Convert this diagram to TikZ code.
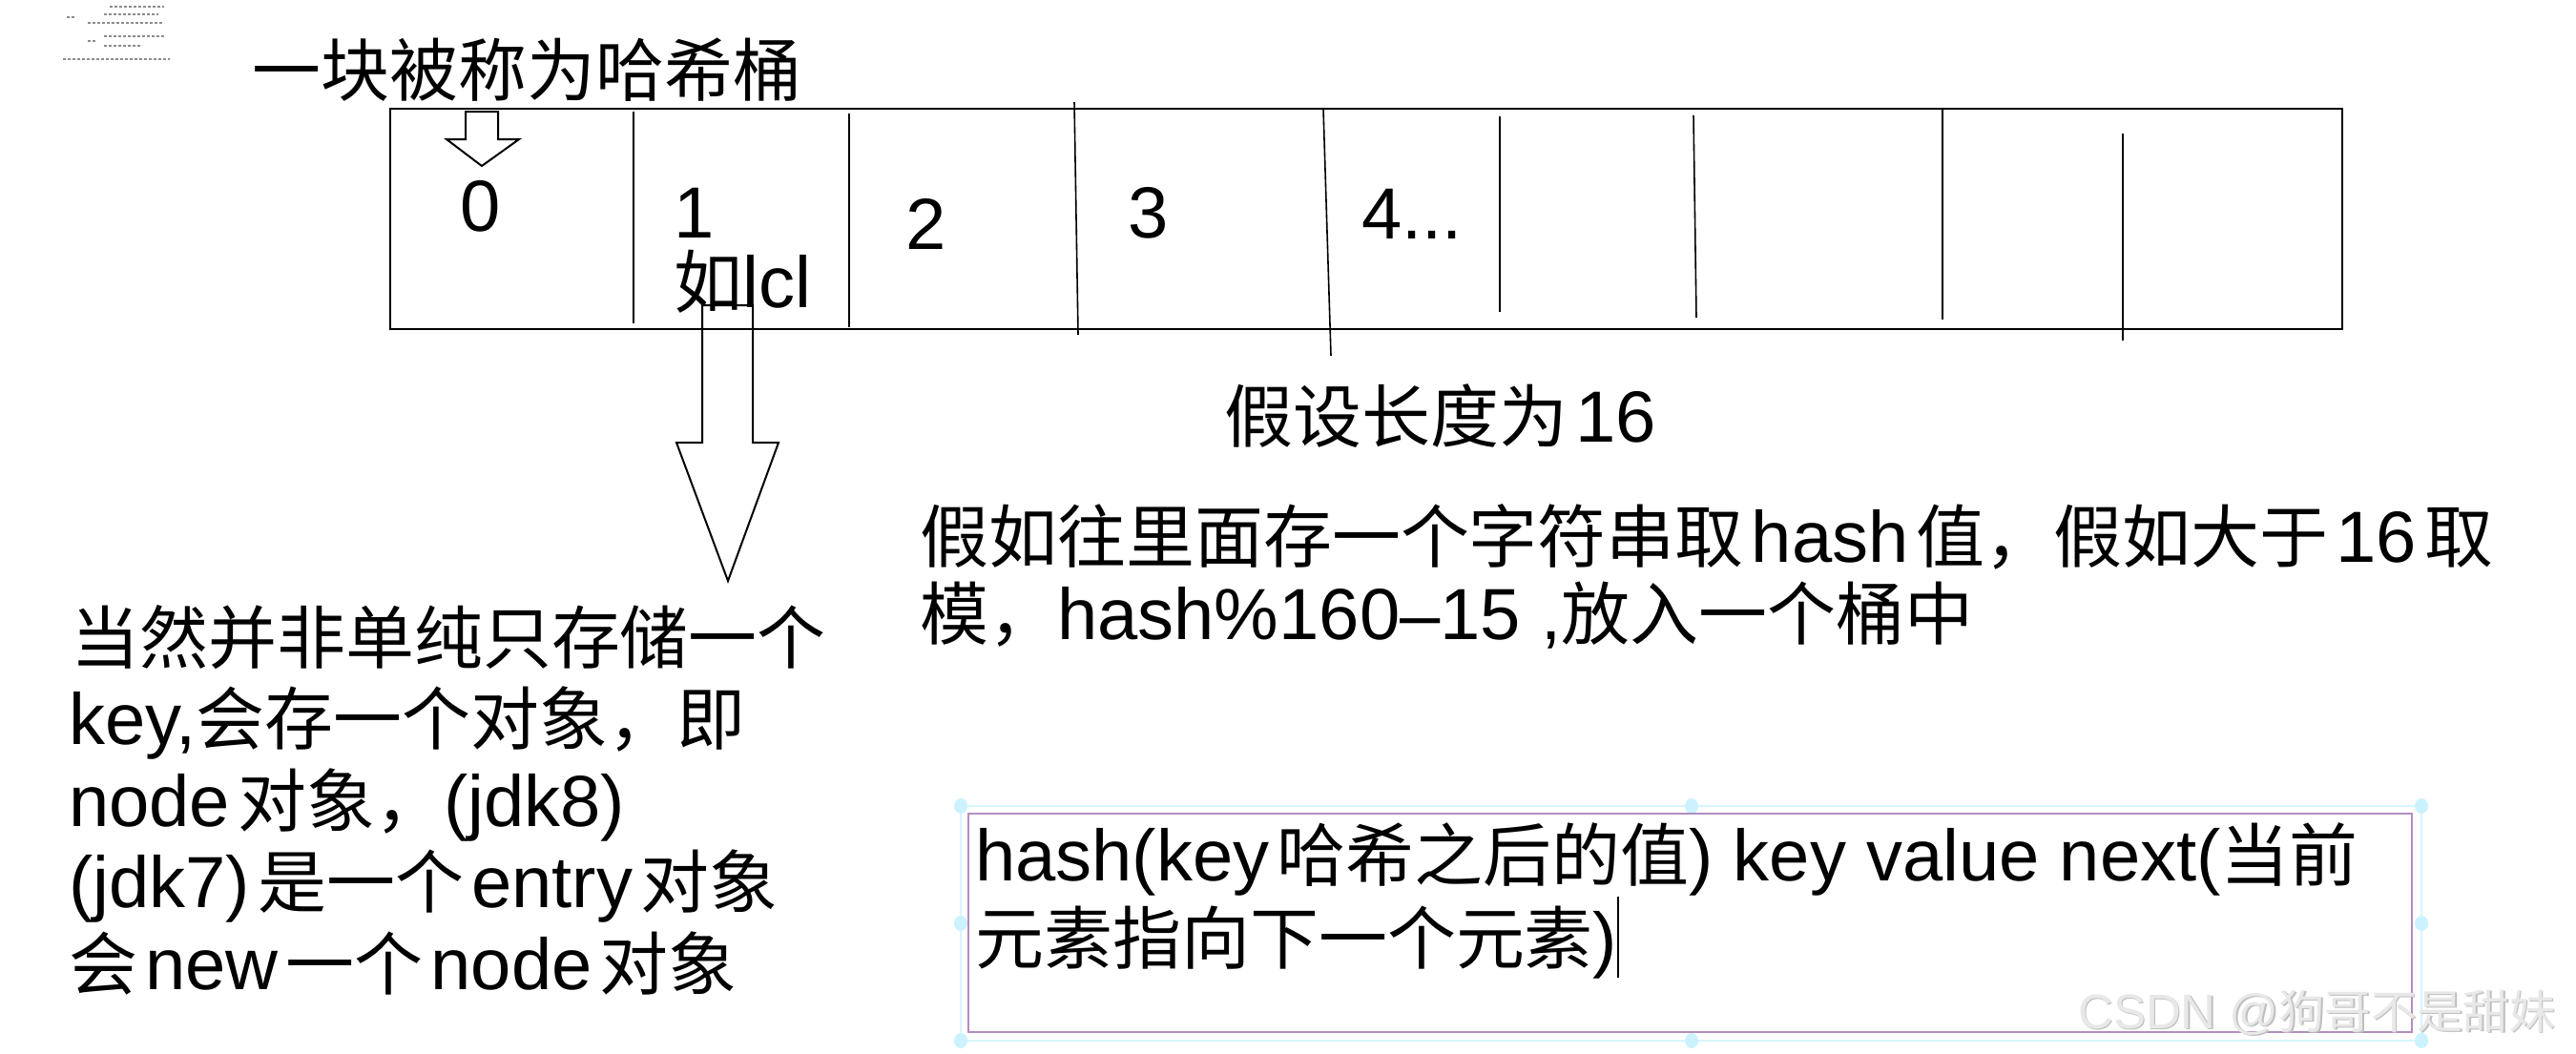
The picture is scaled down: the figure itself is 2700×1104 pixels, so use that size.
\documentclass[tikz,border=0pt]{standalone}
\usepackage{fontspec}
\setmainfont{Liberation Sans}
\newfontfamily\cjk[Scale=0.947]{Noto Sans CJK SC}
\newcommand{\gp}{\hspace{8pt}}
\begin{document}
\begin{tikzpicture}[x=1pt,y=-1pt,
  txt/.style={anchor=base west, inner sep=0pt, font=\fontsize{76}{90}\selectfont},
  num/.style={anchor=base, inner sep=0pt, font=\fontsize{76}{90}\selectfont},
  divider/.style={line width=1.6pt},
  blockarrow/.style={line width=2pt, line join=miter},
  handle/.style={fill=blue!25!cyan!20, draw=none},
  garble/.style={line width=2pt, black!45, dash pattern=on 3pt off 2pt}]
\useasboundingbox[fill=white] (0,0) rectangle (2700,1104);

% tiny illegible text top-left
\draw[garble] (115,7) -- (172,7);
\draw[garble] (109,15) -- (166,15);
\draw[garble] (70,18) -- (80,18);
\draw[garble] (92,24) -- (172,24);
\draw[garble] (109,38) -- (172,38);
\draw[garble] (92,43) -- (100,43);
\draw[garble] (109,48) -- (149,48);
\draw[garble] (66,62) -- (178,62);

% title
\node[txt] (title) at (264,100) {\cjk 一块被称为哈希桶};

% bucket array
\draw[line width=2.6pt] (409,114) rectangle (2455,345);
\draw[divider] (664,117) -- (664,339);
\draw[divider] (890,119) -- (890,343);
\draw[divider] (1126,107) -- (1130,351);
\draw[divider] (1387,114) -- (1395,373);
\draw[divider] (1572,122) -- (1572,327);
\draw[divider] (1775,121) -- (1778,333);
\draw[divider] (2036,115) -- (2036,335);
\draw[divider] (2225,140) -- (2225,357);

\node[num] (n0) at (504,242) {0};
\node[num] (n1) at (728,249) {1};
\node[num] (n2) at (971,261) {2};
\node[num] (n3) at (1204,249) {3};
\node[txt] (n4) at (1427,250) {4...};
\node[txt] (ex) at (706,322) {{\cjk 如}lcl};

% small arrow
\draw[blockarrow] (488,117) -- (522,117) -- (522,146) -- (544,146) -- (505,174) -- (468,146) -- (488,146) -- cycle;

% big arrow
\draw[blockarrow] (736,320) -- (789,320) -- (789,464) -- (816,464) -- (763,609) -- (709,464) -- (736,464) -- cycle;

% middle texts
\node[txt] (len) at (1283,463) {{\cjk 假设长度为}\gp16};
\node[txt] (m1) at (964,589) {{\cjk 假如往里面存一个字符串取}\gp hash\gp{\cjk 值，假如大于}\gp16\gp{\cjk 取}};
\node[txt] (m2) at (964,670) {{\cjk 模，}hash\%160–15 ,{\cjk 放入一个桶中}};

% left text block
\node[txt] (l1) at (74,695) {{\cjk 当然并非单纯只存储一个}};
\node[txt] (l2) at (72,780) {key,{\cjk 会存一个对象，即}};
\node[txt] (l3) at (72,866) {node\gp{\cjk 对象，}(jdk8)};
\node[txt] (l4) at (72,951) {(jdk7)\gp{\cjk 是一个}\gp entry\gp{\cjk 对象}};
\node[txt] (l5) at (72,1037) {{\cjk 会}\gp new\gp{\cjk 一个}\gp node\gp{\cjk 对象}};

% bottom text box
\draw[line width=2pt, blue!30!cyan!15] (1007,845) rectangle (2538,1091);
\foreach \px/\py in {1007/845,1773/845,2538/845,1007/968,2538/968,1007/1091,1773/1091,2538/1091}
  \fill[handle] (\px,\py) ellipse (7pt and 8pt);
\draw[line width=2.4pt, draw={rgb,255:red,180;green,140;blue,192}] (1015,853) rectangle (2528,1082);
\node[txt] (b1) at (1022,923) {hash(key\gp{\cjk 哈希之后的值}) key value next({\cjk 当前}};
\node[txt] (b2) at (1022,1010) {{\cjk 元素指向下一个元素})};
\draw[line width=1.5pt] (1696,940) -- (1696,1025);

% watermark
\node[anchor=base west, inner sep=0pt, font=\fontsize{51}{60}\selectfont, text=black!25] (wm0) at (2179.5,1079.5) {CSDN @{\cjk 狗哥不是甜妹}};
\node[anchor=base west, inner sep=0pt, font=\fontsize{51}{60}\selectfont, text=black!9] (wm) at (2178,1078) {CSDN @{\cjk 狗哥不是甜妹}};
\end{tikzpicture}
\end{document}
